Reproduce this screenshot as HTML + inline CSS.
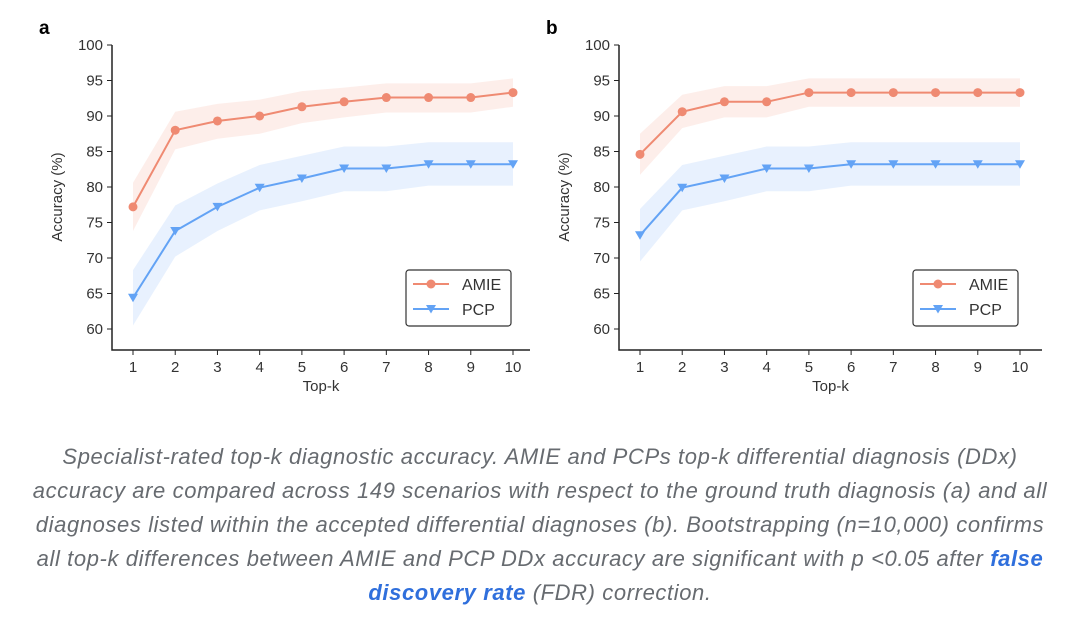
<!DOCTYPE html>
<html><head><meta charset="utf-8">
<style>
body{margin:0;background:#fff;width:1080px;height:618px;overflow:hidden;font-family:"Liberation Sans",sans-serif;}
#cap{position:absolute;left:10px;top:440px;width:1060px;text-align:center;font-style:italic;color:#676b70;font-size:22px;letter-spacing:0.6px;line-height:34px;}
#cap a{color:#2f6fdc;text-decoration:none;font-weight:600;}
</style></head><body>
<svg id="chart" width="1080" height="430" style="position:absolute;left:0;top:0"></svg>
<div id="cap">Specialist-rated top-k diagnostic accuracy. AMIE and PCPs top-k differential diagnosis (DDx)<br>accuracy are compared across 149 scenarios with respect to the ground truth diagnosis (a) and all<br>diagnoses listed within the accepted differential diagnoses (b). Bootstrapping (n=10,000) confirms<br>all top-k differences between AMIE and PCP DDx accuracy are significant with p &lt;0.05 after <a>false<br>discovery rate</a> (FDR) correction.</div>
<script>
const categories=[1,2,3,4,5,6,7,8,9,10];
const yTicks=[60,65,70,75,80,85,90,95,100];
const aAmie=[77.2,88,89.3,90,91.3,92,92.6,92.6,92.6,93.3];
const aAmieLo=[73.8,85.3,86.8,87.5,89,89.8,90.5,90.5,90.5,91.3];
const aAmieHi=[80.6,90.6,91.7,92.3,93.5,94,94.6,94.6,94.6,95.3];
const aPcp=[64.4,73.8,77.2,79.9,81.2,82.6,82.6,83.2,83.2,83.2];
const aPcpLo=[60.5,70.2,73.8,76.7,78,79.4,79.4,80.2,80.2,80.2];
const aPcpHi=[68.3,77.4,80.5,83.1,84.4,85.7,85.7,86.3,86.3,86.3];
const bAmie=[84.6,90.6,92,92,93.3,93.3,93.3,93.3,93.3,93.3];
const bAmieLo=[81.7,88.3,89.8,89.8,91.3,91.3,91.3,91.3,91.3,91.3];
const bAmieHi=[87.5,93,94.2,94.2,95.3,95.3,95.3,95.3,95.3,95.3];
const bPcp=[73.2,79.9,81.2,82.6,82.6,83.2,83.2,83.2,83.2,83.2];
const bPcpLo=[69.5,76.7,78,79.4,79.4,80.2,80.2,80.2,80.2,80.2];
const bPcpHi=[76.9,83.1,84.4,85.7,85.7,86.3,86.3,86.3,86.3,86.3];

const NS='http://www.w3.org/2000/svg';
const svg=document.getElementById('chart');
function mk(tag,attrs,parent){const e=document.createElementNS(NS,tag);for(const k in attrs)e.setAttribute(k,attrs[k]);(parent||svg).appendChild(e);return e;}
const RED='#ef8a72',BLUE='#63a3f5';
function panel(id,axX,x1,x10,axEnd,label,legX,series){
  const g=mk('g',{});
  
  
  const yS=v=>45+(100-v)*(329-45)/40;
  const xS=k=>x1+(k-1)*(x10-x1)/9;
  const t=mk('text',{x:axX-73,y:34,'font-size':19,'font-weight':'bold',fill:'#000'},g);t.textContent=label;
  
  series.forEach(s=>{
    let d='M'+categories.map((k,i)=>xS(k)+','+yS(s.hi[i])).join('L')+'L'+categories.slice().reverse().map((k,j)=>{const i=categories.length-1-j;return xS(k)+','+yS(s.lo[i]);}).join('L')+'Z';
    const b=mk('path',{d:d,fill:s.c,'fill-opacity':0.15,stroke:'none'},g);
    
  });
  const ax=mk('path',{d:`M${axX},45V350H${axEnd}`,stroke:'#222',fill:'none','stroke-width':1.5},g);
  
  yTicks.forEach(v=>{const y=yS(v);mk('line',{x1:axX-5,x2:axX,y1:y,y2:y,stroke:'#222'},g);
    const tt=mk('text',{x:axX-9,y:y+5,'text-anchor':'end','font-size':15,fill:'#333'},g);tt.textContent=v;
    });
  categories.forEach(k=>{const x=xS(k);mk('line',{x1:x,x2:x,y1:350,y2:355,stroke:'#222'},g);
    const tt=mk('text',{x:x,y:372,'text-anchor':'middle','font-size':15,fill:'#333'},g);tt.textContent=k;
    });
  const xt=mk('text',{x:(axX+axEnd)/2,y:391,'text-anchor':'middle','font-size':15,fill:'#333'},g);xt.textContent='Top-k';
  
  const yt=mk('text',{x:0,y:0,'text-anchor':'middle','font-size':15,fill:'#333',transform:`translate(${axX-50},197) rotate(-90)`},g);yt.textContent='Accuracy (%)';
  
  series.forEach(s=>{
    const l=mk('polyline',{points:categories.map((k,i)=>xS(k)+','+yS(s.v[i])).join(' '),fill:'none',stroke:s.c,'stroke-width':2},g);
    
    categories.forEach((k,i)=>{const x=xS(k),y=yS(s.v[i]);let m;
      if(s.tri)m=mk('path',{d:`M${x-5},${y-4}L${x+5},${y-4}L${x},${y+4.5}Z`,fill:s.c},g);
      else m=mk('circle',{cx:x,cy:y,r:4.5,fill:s.c},g);
      });
  });
  const lg=mk('g',{},g);
  mk('rect',{x:legX,y:270,width:105,height:56,rx:3,fill:'#fff',stroke:'#333','stroke-width':1.2},lg);
  series.forEach((s,j)=>{const y=284+j*25;
    mk('line',{x1:legX+7,x2:legX+43,y1:y,y2:y,stroke:s.c,'stroke-width':2},lg);
    if(s.tri)mk('path',{d:`M${legX+20},${y-4}L${legX+30},${y-4}L${legX+25},${y+4.5}Z`,fill:s.c},lg);
    else mk('circle',{cx:legX+25,cy:y,r:4.5,fill:s.c},lg);
    const tt=mk('text',{x:legX+56,y:y+6,'font-size':16,fill:'#333'},lg);tt.textContent=s.name;
    });
}
panel('a',112,133,513,530,'a',406,[{name:'AMIE',v:aAmie,lo:aAmieLo,hi:aAmieHi,c:RED},{name:'PCP',v:aPcp,lo:aPcpLo,hi:aPcpHi,c:BLUE,tri:true}]);
panel('b',619,640,1020,1042,'b',913,[{name:'AMIE',v:bAmie,lo:bAmieLo,hi:bAmieHi,c:RED},{name:'PCP',v:bPcp,lo:bPcpLo,hi:bPcpHi,c:BLUE,tri:true}]);
</script>
</body></html>
